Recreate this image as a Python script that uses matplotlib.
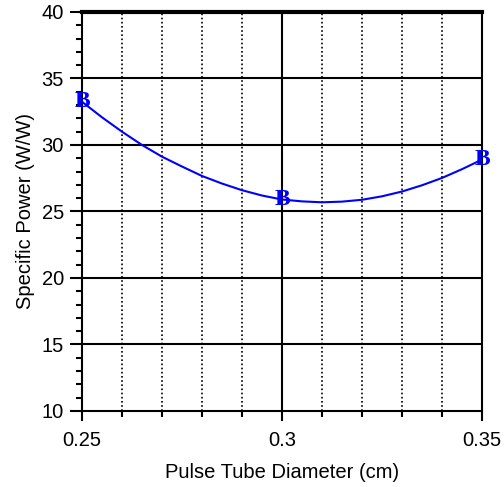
import numpy as np
import matplotlib.pyplot as plt
from matplotlib.ticker import MultipleLocator

# data
diam = [0.25, 0.255, 0.26, 0.265, 0.27, 0.275, 0.28, 0.285, 0.29, 0.295, 0.30,
        0.305, 0.31, 0.315, 0.32, 0.325, 0.33, 0.335, 0.34, 0.345, 0.35]
power = [33.25, 32.08, 31.0, 30.0, 29.12, 28.38, 27.67, 27.1, 26.6, 26.2, 25.9,
         25.76, 25.69, 25.74, 25.88, 26.14, 26.5, 26.97, 27.52, 28.18, 28.9]
pt_x = [0.25, 0.30, 0.35]
pt_y = [33.25, 25.9, 28.9]

plt.rcParams['font.family'] = ['Liberation Sans', 'DejaVu Sans']

fig = plt.figure(figsize=(5.04, 4.87), dpi=100)
ax = fig.add_axes([0.1627, 0.1561, 0.7936, 0.8193])

ax.plot(diam, power, color='#0000ff', lw=1.5, zorder=3)
for x, y in zip(pt_x, pt_y):
    ax.text(x, y, 'B', color='#0000ff', fontsize=17, fontweight='bold',
            family='Liberation Serif', ha='center', va='center', zorder=4)

ax.set_xlim(0.25, 0.35)
ax.set_ylim(10, 40)
ax.xaxis.set_minor_locator(MultipleLocator(0.01))
ax.yaxis.set_major_locator(MultipleLocator(5))
ax.yaxis.set_minor_locator(MultipleLocator(1))
ax.set_xticks([0.25, 0.3, 0.35])
ax.set_xticklabels(['0.25', '0.3', '0.35'])

# grid lines
for y in [15, 20, 25, 30, 35]:
    ax.axhline(y, color='black', lw=1.5, zorder=1)
ax.axvline(0.3, color='black', lw=1.5, zorder=1)
for x in [0.26, 0.27, 0.28, 0.29, 0.31, 0.32, 0.33, 0.34]:
    ax.axvline(x, color='black', lw=1.2, ls=(0, (1, 1.5)), zorder=1)

for s in ['left', 'bottom', 'right']:
    ax.spines[s].set_linewidth(1.5)
ax.spines['top'].set_linewidth(3)

ax.tick_params(which='major', direction='out', length=7.5, width=1.5, labelsize=14.5)
ax.tick_params(which='minor', direction='out', length=4.5, width=1.5)
ax.tick_params(axis='y', which='major', length=9, pad=4)
ax.tick_params(axis='x', which='major', pad=7)

ax.set_xlabel('Pulse Tube Diameter (cm)', fontsize=14.5, labelpad=9)
ax.set_ylabel('Specific Power (W/W)', fontsize=14.5, labelpad=5)

fig.savefig('out.png', dpi=100)
